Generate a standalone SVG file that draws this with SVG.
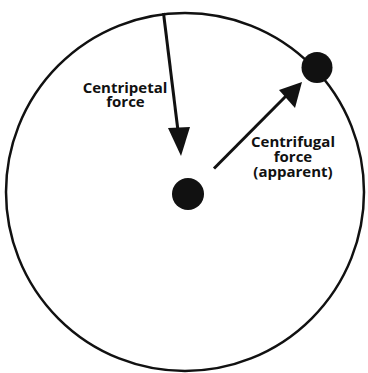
<svg xmlns="http://www.w3.org/2000/svg" width="368" height="373" viewBox="0 0 368 373">
<style>
.lbl{font-family:"Open Sans","Liberation Sans",sans-serif;font-weight:bold;font-size:15px;fill:#111;text-anchor:middle}
.arr{stroke:#111;stroke-width:3;fill:none}
</style>
<defs>
<marker id="ah" viewBox="0 0 10 10" refX="10" refY="5" markerWidth="8" markerHeight="8" markerUnits="userSpaceOnUse" orient="auto">
<path d="M0,0 L10,5 L0,10 z" fill="#111"/>
</marker>
</defs>
<rect width="368" height="373" fill="#fff"/>
<g id="orbit"><circle cx="185" cy="192" r="179" fill="none" stroke="#111" stroke-width="2.5"/></g>
<g id="center"><circle cx="188" cy="194" r="16" fill="#111"/></g>
<g id="mass"><circle cx="317" cy="67.5" r="15.5" fill="#111"/></g>
<g id="connectors">
<line class="arr" x1="163.5" y1="13" x2="178.5" y2="135"/>
<path d="M168,128 L190,127 L181,156 z" fill="#111"/>
<line class="arr" x1="214" y1="168.5" x2="288" y2="94"/>
<path d="M279,90 L295,108 L302,82 z" fill="#111"/>
</g>
<g id="label-centripetal">
<text class="lbl" x="125" y="93">Centripetal</text>
<text class="lbl" x="125.5" y="107">force</text>
</g>
<g id="label-centrifugal">
<text class="lbl" x="293" y="147">Centrifugal</text>
<text class="lbl" x="293" y="162">force</text>
<text class="lbl" x="293" y="177">(apparent)</text>
</g>
</svg>
